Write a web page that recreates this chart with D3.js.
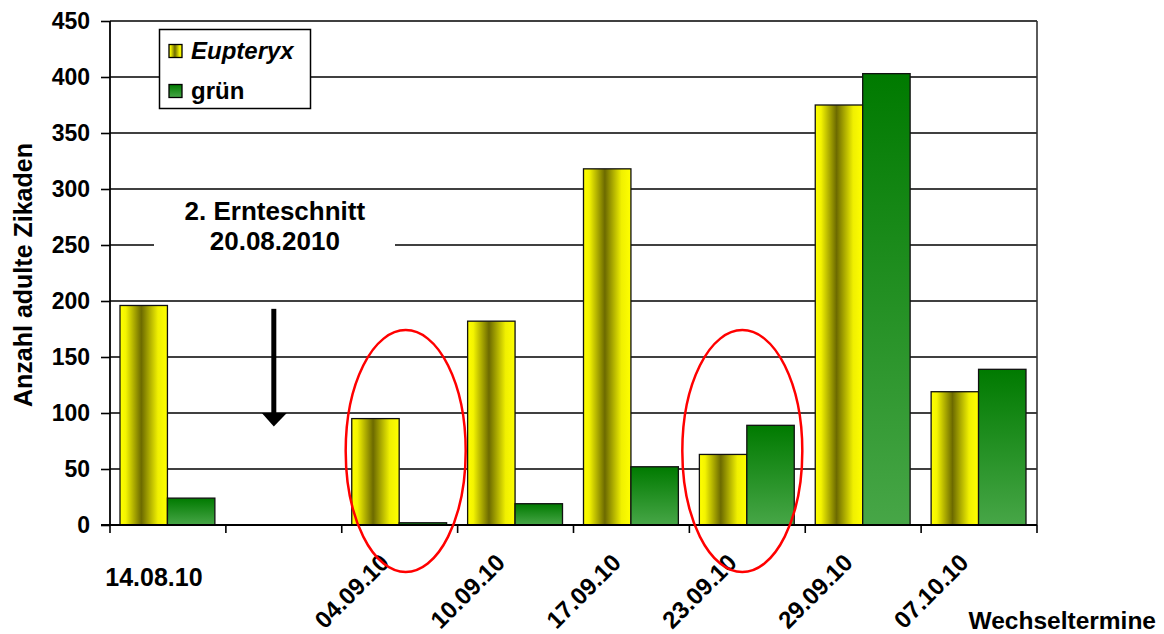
<!DOCTYPE html>
<html><head><meta charset="utf-8">
<script src="https://cdn.jsdelivr.net/npm/d3@7"></script>
<style>
html,body{margin:0;padding:0;background:#fff;}
svg{display:block;font-family:"Liberation Sans",Arial,sans-serif;font-weight:bold;}
</style></head>
<body>
<svg id="chart" width="1164" height="634"></svg>
<script>
// ---- data ----
const categories = ["14.08.10", "", "04.09.10", "10.09.10", "17.09.10", "23.09.10", "29.09.10", "07.10.10"];
const eupteryx   = [196, null, 95, 182, 318, 63, 375, 119];
const gruen      = [24, null, 2, 19, 52, 89, 403, 139];
const yTicks     = [0, 50, 100, 150, 200, 250, 300, 350, 400, 450];
const seriesNames = ["Eupteryx", "grün"];
const highlighted = [2, 5];           // circled categories
const harvestIndex = 1;               // blank slot with arrow
const annotationLines = ["2. Ernteschnitt", "20.08.2010"];
const yTitle = "Anzahl adulte Zikaden";
const xTitle = "Wechseltermine";

const svg = d3.select("#chart");
const m = {left: 110, right: 1037, top: 21, bottom: 525};

const x = d3.scaleBand().domain(d3.range(categories.length)).range([m.left, m.right]).padding(0);
const y = d3.scaleLinear().domain([0, 450]).range([m.bottom, m.top]);
const sub = d3.scaleBand().domain([0, 1]).range([10, x.bandwidth() - 11]).padding(0);

// gradients
const defs = svg.append("defs");
const gy = defs.append("linearGradient").attr("id", "gYellow").attr("x1", 0).attr("x2", 1).attr("y1", 0).attr("y2", 0);
[[0, "#ffff00"], [0.12, "#f4f400"], [0.45, "#6c6a00"], [0.8, "#f0f000"], [1, "#ffff00"]]
  .forEach(([o, c]) => gy.append("stop").attr("offset", o).attr("stop-color", c));
const gg = defs.append("linearGradient").attr("id", "gGreen").attr("x1", 0).attr("x2", 0).attr("y1", 0).attr("y2", 1);
[[0, "#007a00"], [1, "#47a647"]]
  .forEach(([o, c]) => gg.append("stop").attr("offset", o).attr("stop-color", c));
const fills = ["url(#gYellow)", "url(#gGreen)"];

// gridlines
svg.append("g").selectAll("line").data(yTicks.filter(d => d > 0)).join("line")
  .attr("x1", m.left).attr("x2", m.right).attr("y1", d => y(d)).attr("y2", d => y(d))
  .attr("stroke", "#000").attr("stroke-width", 1.6);
// right border
svg.append("line").attr("x1", m.right).attr("x2", m.right).attr("y1", y(450)).attr("y2", y(0))
  .attr("stroke", "#333").attr("stroke-width", 1.6);

// annotation white box + text
const ax = x(harvestIndex) + x.bandwidth() / 2 - 9;
svg.append("rect").attr("x", 154).attr("y", y(292)).attr("width", 241).attr("height", y(222) - y(292)).attr("fill", "#fff");
svg.append("g").selectAll("text").data(annotationLines).join("text")
  .attr("x", ax).attr("y", (d, i) => y(272) + i * 30)
  .attr("text-anchor", "middle").attr("font-size", 26).text(d => d);

// arrow
svg.append("line").attr("x1", ax - 1).attr("x2", ax - 1).attr("y1", y(193)).attr("y2", y(99))
  .attr("stroke", "#000").attr("stroke-width", 5);
svg.append("path")
  .attr("d", `M${ax - 13},${y(100)} L${ax + 12},${y(100)} L${ax - 1},${y(88)} Z`).attr("fill", "#000");

// bars
const seriesData = [eupteryx, gruen];
seriesData.forEach((vals, s) => {
  svg.append("g").selectAll("rect").data(vals.map((v, i) => ({v, i})).filter(d => d.v != null)).join("rect")
    .attr("x", d => x(d.i) + sub(s)).attr("width", sub.bandwidth())
    .attr("y", d => y(d.v)).attr("height", d => y(0) - y(d.v))
    .attr("fill", fills[s]).attr("stroke", "#111").attr("stroke-width", 1.3);
});

// axes
const yAxis = d3.axisLeft(y).tickValues(yTicks).tickSize(9).tickPadding(11);
const yg = svg.append("g").attr("transform", `translate(${m.left},0)`).call(yAxis);
yg.select(".domain").attr("stroke", "#000").attr("stroke-width", 1.8).attr("d", `M-0,${y(450)}V${y(0)}`);
yg.selectAll(".tick line").attr("stroke", "#000").attr("stroke-width", 1.6);
yg.selectAll(".tick text").attr("font-size", 23).attr("font-family", "Liberation Sans, Arial, sans-serif")
  .attr("font-weight", "bold").attr("fill", "#000");

const xAxisG = svg.append("g").attr("transform", `translate(0,${m.bottom})`);
xAxisG.append("line").attr("x1", m.left - 9).attr("x2", m.right).attr("y1", 0).attr("y2", 0)
  .attr("stroke", "#000").attr("stroke-width", 1.8);
xAxisG.selectAll("line.tk").data(d3.range(categories.length + 1)).join("line").attr("class", "tk")
  .attr("x1", i => i < categories.length ? x(i) : m.right).attr("x2", i => i < categories.length ? x(i) : m.right)
  .attr("y1", 0).attr("y2", 8).attr("stroke", "#000").attr("stroke-width", 1.6);

// x labels
svg.append("g").selectAll("text").data(categories.map((c, i) => ({c, i})).filter(d => d.c !== "")).join("text")
  .attr("font-size", d => d.i === 0 ? 25 : 24)
  .attr("text-anchor", d => d.i === 0 ? "middle" : "end")
  .attr("transform", d => d.i === 0
      ? `translate(${x(d.i) + x.bandwidth() / 2 - 14},586)`
      : `translate(${x(d.i) + x.bandwidth() / 2 - 9},564) rotate(-45)`)
  .text(d => d.c);

// axis titles
svg.append("text").attr("transform", `translate(32,275) rotate(-90)`).attr("text-anchor", "middle")
  .attr("font-size", 25).text(yTitle);
svg.append("text").attr("x", 1156).attr("y", 629).attr("text-anchor", "end").attr("font-size", 24.5).text(xTitle);

// ellipses
const ellipseDx = [6, -5];
svg.append("g").selectAll("ellipse").data(highlighted).join("ellipse")
  .attr("cx", (c, k) => x(c) + x.bandwidth() / 2 + ellipseDx[k]).attr("cy", y(66))
  .attr("rx", 60).attr("ry", y(0) - y(108))
  .attr("fill", "none").attr("stroke", "#ff0000").attr("stroke-width", 2.5);

// legend
const lg = svg.append("g");
lg.append("rect").attr("x", 159.5).attr("y", 29.5).attr("width", 151).attr("height", 79)
  .attr("fill", "#fff").attr("stroke", "#000").attr("stroke-width", 1.5);
const li = lg.selectAll("g").data(seriesNames).join("g")
  .attr("transform", (d, i) => `translate(0,${i * 40})`);
li.append("rect").attr("x", 169).attr("y", 44.5).attr("width", 13).attr("height", 13)
  .attr("fill", (d, i) => fills[i]).attr("stroke", "#000").attr("stroke-width", 1.3);
li.append("text").attr("x", 191).attr("y", 59).attr("font-size", 24)
  .attr("font-style", (d, i) => i === 0 ? "italic" : "normal").text(d => d);
</script>
</body></html>
